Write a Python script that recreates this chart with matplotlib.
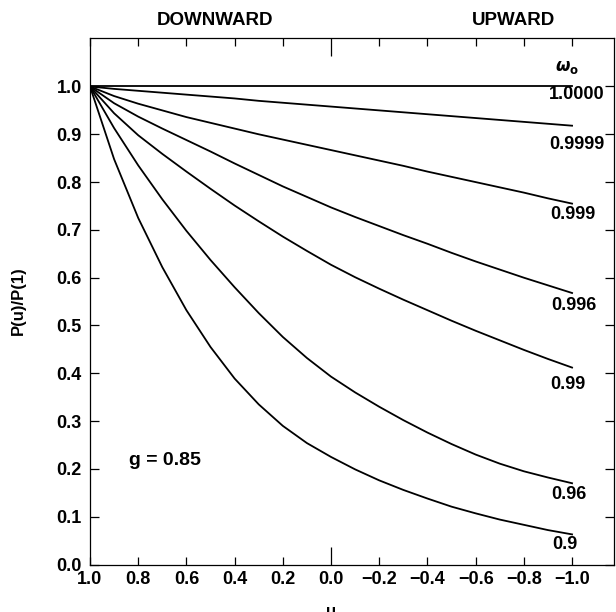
import numpy as np
import matplotlib.pyplot as plt

plt.rcParams['font.family'] = ['Liberation Sans', 'DejaVu Sans']
plt.rcParams['font.weight'] = 'bold'

# cosine of zenith angle, from straight down (1.0) to straight up (-1.0)
mu = [1.0, 0.9, 0.8, 0.7, 0.6, 0.5, 0.4, 0.3, 0.2, 0.1, 0.0,
      -0.1, -0.2, -0.3, -0.4, -0.5, -0.6, -0.7, -0.8, -0.9, -1.0]

# single scattering albedo of each curve
omega_labels = ['1.0000', '0.9999', '0.999', '0.996', '0.99', '0.96', '0.9']

p_10000 = [1.0] * 21
p_09999 = [1.000, 0.995, 0.991, 0.987, 0.983, 0.979, 0.975, 0.970, 0.966, 0.962, 0.958,
           0.954, 0.950, 0.946, 0.942, 0.938, 0.934, 0.930, 0.926, 0.922, 0.918]
p_0999 = [1.000, 0.980, 0.964, 0.950, 0.936, 0.924, 0.912, 0.900, 0.889, 0.878, 0.867,
          0.856, 0.845, 0.834, 0.822, 0.811, 0.800, 0.789, 0.778, 0.766, 0.755]
p_0996 = [1.000, 0.965, 0.937, 0.912, 0.888, 0.864, 0.839, 0.815, 0.791, 0.769, 0.747,
          0.727, 0.708, 0.689, 0.671, 0.652, 0.634, 0.617, 0.600, 0.584, 0.568]
p_099 = [1.000, 0.944, 0.898, 0.859, 0.822, 0.786, 0.751, 0.718, 0.686, 0.656, 0.627,
         0.601, 0.577, 0.554, 0.532, 0.510, 0.489, 0.469, 0.449, 0.430, 0.412]
p_096 = [1.000, 0.913, 0.835, 0.764, 0.698, 0.637, 0.580, 0.526, 0.476, 0.432, 0.393,
         0.360, 0.330, 0.302, 0.276, 0.252, 0.230, 0.211, 0.195, 0.182, 0.170]
p_09 = [1.000, 0.848, 0.725, 0.622, 0.532, 0.455, 0.389, 0.335, 0.290, 0.254, 0.225,
        0.199, 0.176, 0.156, 0.138, 0.121, 0.107, 0.094, 0.083, 0.072, 0.063]

curves = [p_10000, p_09999, p_0999, p_0996, p_099, p_096, p_09]

# where each label sits relative to the end of its curve (points)
label_off = [(3.5, -6), (3.5, -13.5), (0.5, -7.5), (1.5, -9), (-3, -12), (-2.5, -8), (-5.5, -7.5)]

fig = plt.figure(figsize=(6.16, 6.12), dpi=100)
ax = fig.add_axes([90 / 616, 1 - 564.5 / 612, 524 / 616, 527 / 612])

for p, lab, off in zip(curves, omega_labels, label_off):
    ax.plot(mu, p, color='black', lw=1.3)
    ax.annotate(lab, xy=(mu[-1], p[-1]), xytext=off, textcoords='offset points',
                ha='center', va='center', fontsize=13, fontweight='bold')

ax.annotate(r'$\omega_\mathrm{o}$', xy=(mu[-1], p_10000[-1]), xytext=(-3.5, 13.5),
            textcoords='offset points', ha='center', va='center', fontsize=12)

ax.text(0.69, 0.217, 'g = 0.85', ha='center', va='center', fontsize=14, fontweight='bold')

ax.set_xlim(1.0, -1.174)
ax.set_ylim(0.0, 1.1025)

xt = np.round(np.arange(1.0, -1.01, -0.2), 1)
ax.set_xticks(xt)
ax.set_xticklabels([('%.1f' % v).replace('-', '\u2212') for v in xt])
ax.set_yticks(np.round(np.arange(0, 1.01, 0.1), 1))
ax.tick_params(axis='x', direction='in', top=True, length=5.8, width=0.9, pad=5, labelsize=13)
ax.tick_params(axis='y', direction='in', right=True, length=6.5, width=0.9, pad=6, labelsize=13)

# longer tick at mu = 0, top and bottom
mid = ax.xaxis.get_major_ticks()[5]
mid.tick1line.set_markersize(13)
mid.tick2line.set_markersize(13)

for s in ax.spines.values():
    s.set_linewidth(0.9)

tr = ax.get_xaxis_transform()
ax.text(0.48, 1.033, 'DOWNWARD', transform=tr, ha='center', va='center', fontsize=13.5, fontweight='bold')
ax.text(-0.755, 1.033, 'UPWARD', transform=tr, ha='center', va='center', fontsize=13.5, fontweight='bold')

ax.set_ylabel('P(u)/P(1)', fontsize=12, fontweight='bold', labelpad=22)
ax.text(0.0, -0.075, 'u', transform=tr, ha='center', va='top', fontsize=12, fontweight='bold')

fig.savefig('out.png', dpi=100)
